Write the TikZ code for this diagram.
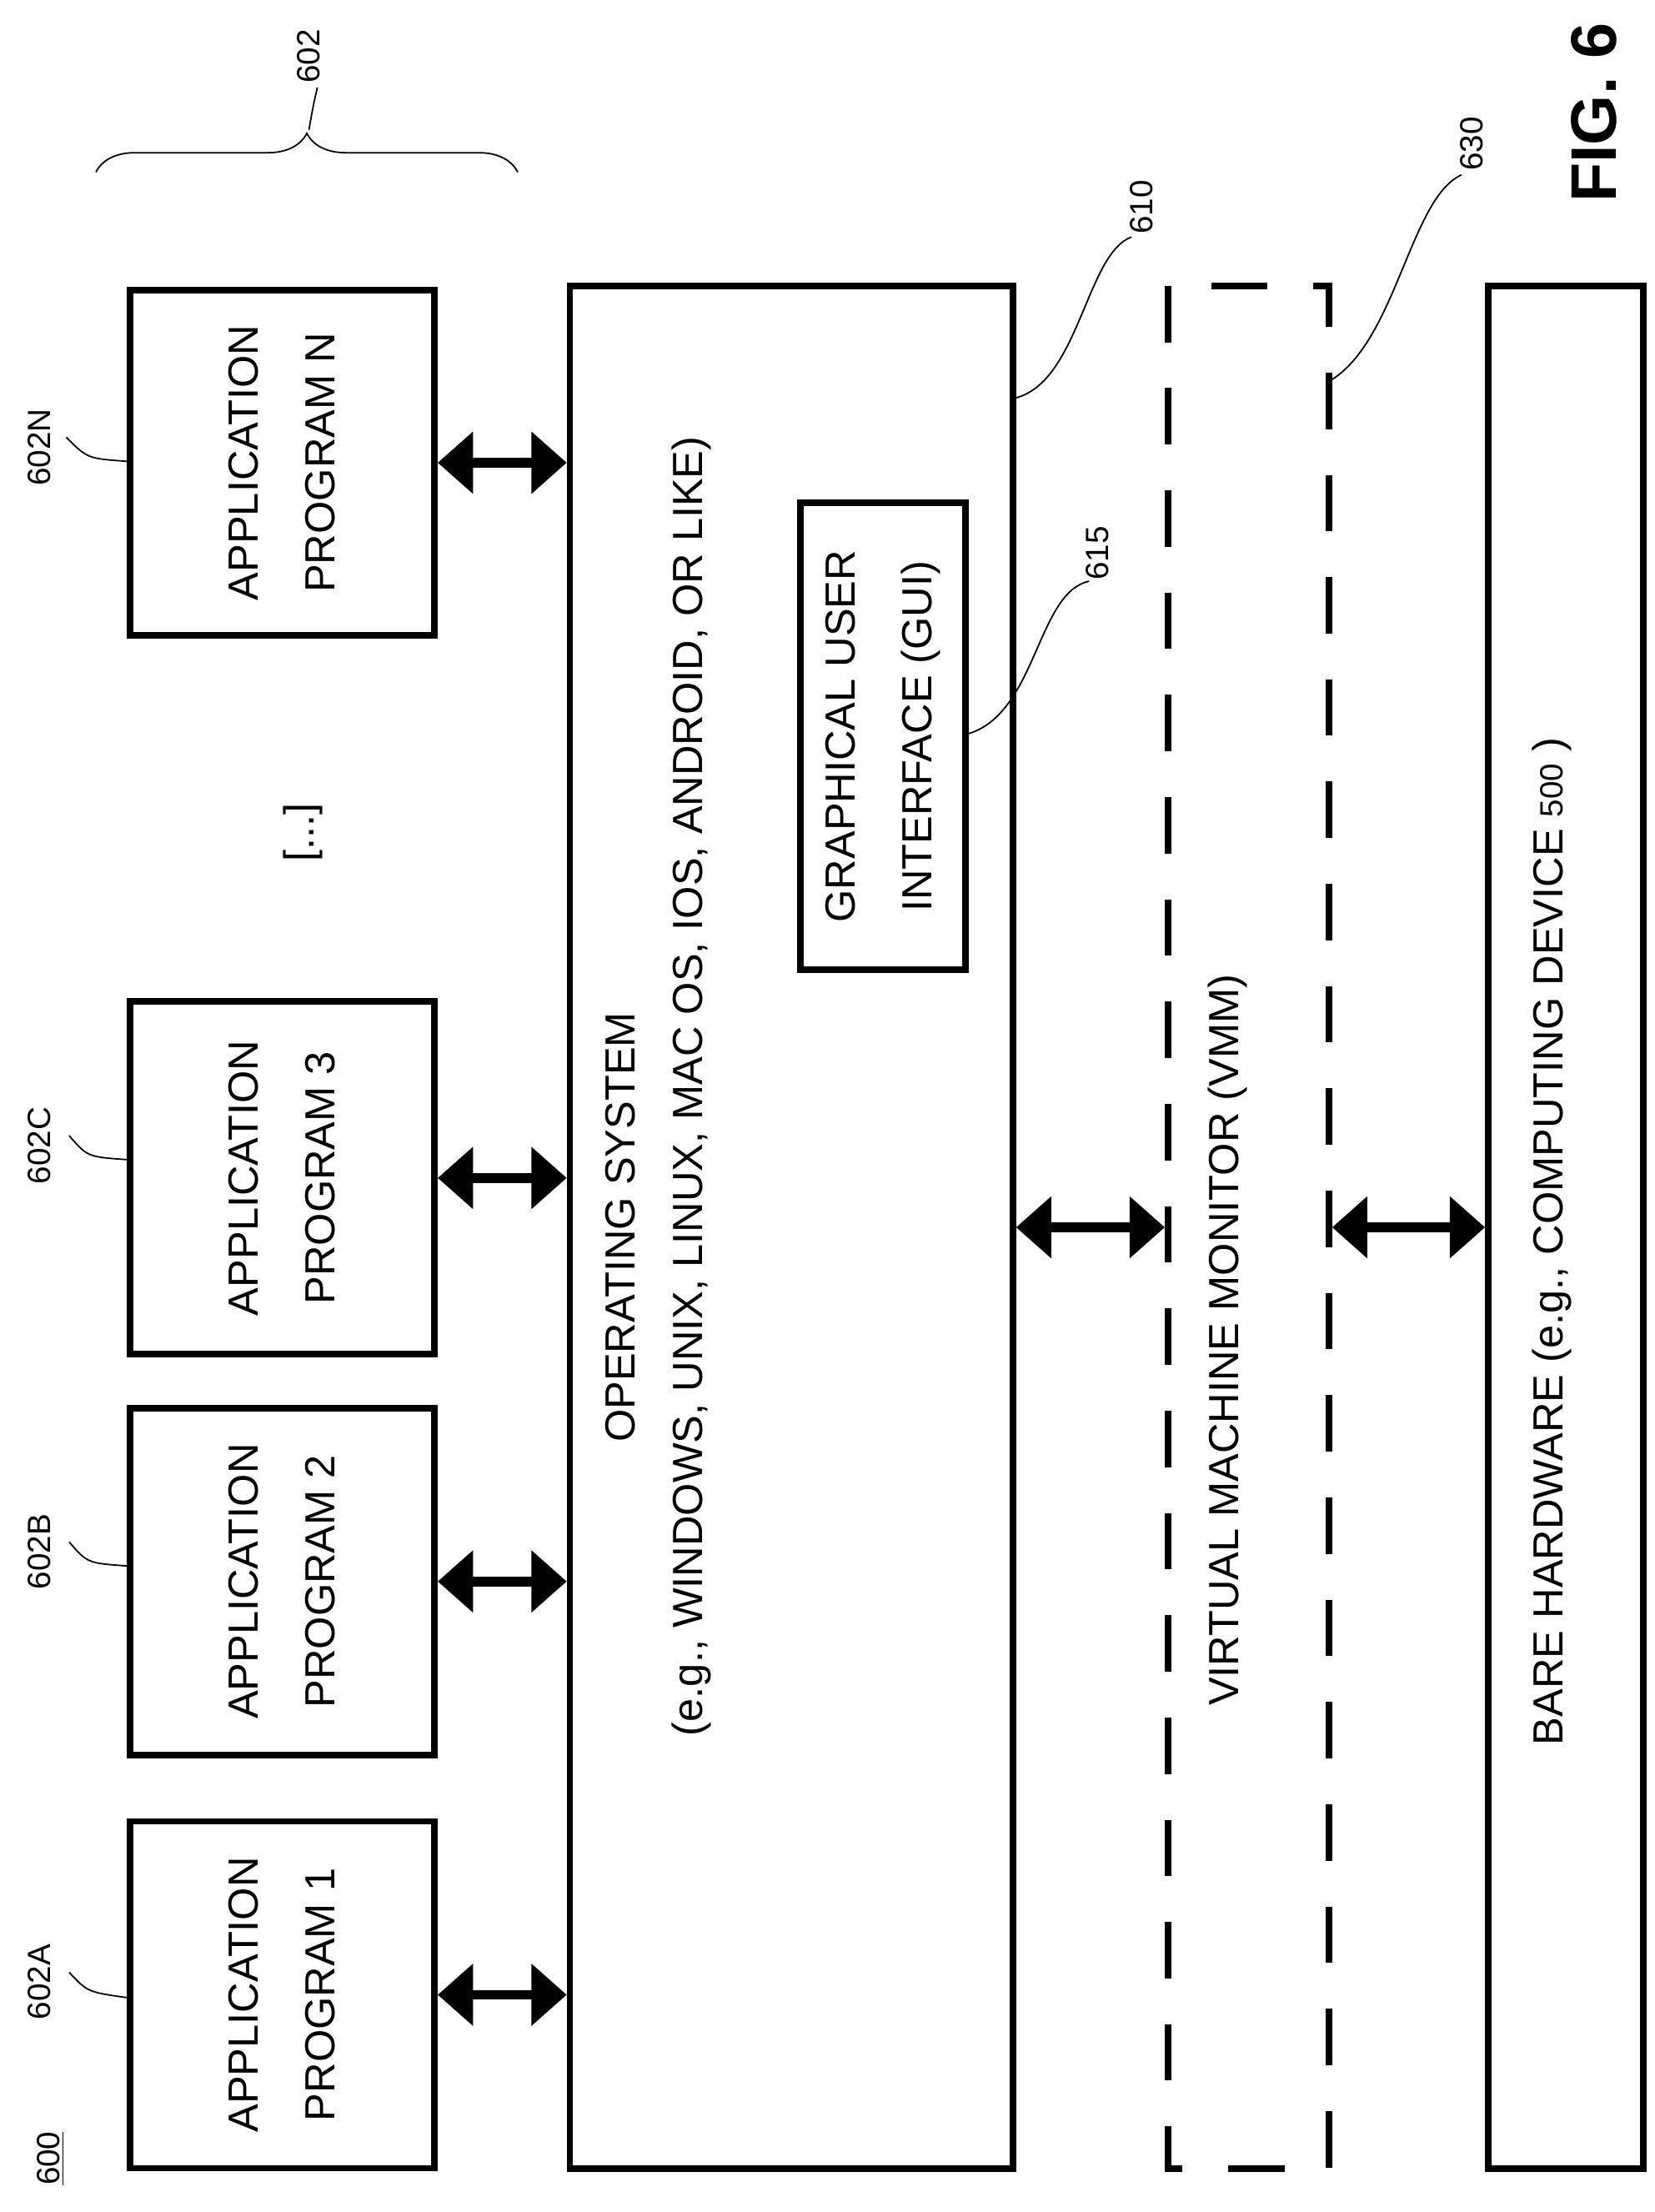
\documentclass[tikz,border=0pt]{standalone}
\usepackage{fontspec}
\setmainfont{Liberation Sans}
\usetikzlibrary{arrows.meta,decorations.pathreplacing}

\begin{document}
\begin{tikzpicture}[
        x=0.02cm, y=-0.02cm,
        box/.style 2 args={draw, line width=2.6pt, rotate=90, minimum width=#1, minimum height=#2,
            align=center, inner sep=0pt, font=\fontsize{17}{31}\selectfont},
        txt/.style={rotate=90, font=\fontsize{17}{20}\selectfont},
        ref/.style={rotate=90, font=\fontsize{13}{15}\selectfont},
        lead/.style={line width=0.6pt},
        dbl/.style={line width=4pt, {Triangle[length=0.5cm,width=0.85cm]}-{Triangle[length=0.5cm,width=0.85cm]}}
    ]
        \useasboundingbox (0,0) rectangle (1173,1568);

        % application programs
        \node [box={4.92cm}{4.32cm}] (a1) at (200,1414) {APPLICATION\\PROGRAM 1};
        \node [box={4.92cm}{4.32cm}] (a2) at (200,1121) {APPLICATION\\PROGRAM 2};
        \node [box={5.0cm}{4.32cm}]  (a3) at (200,835)  {APPLICATION\\PROGRAM 3};
        \node [box={4.9cm}{4.32cm}]  (an) at (200,328)  {APPLICATION\\PROGRAM N};
        \node [txt] (dots) at (215,590) {[...]};

        % operating system, monitor, hardware
        \node [box={26.7cm}{6.28cm}] (os) at (561,870) {};
        \node [txt] (ostitle) at (440,870) {OPERATING SYSTEM};
        \node [txt] (osdesc) at (490,770) {(e.g., WINDOWS, UNIX, LINUX, MAC OS, IOS, ANDROID, OR LIKE)};
        \node [box={6.62cm}{2.34cm}] (gui) at (626,522) {GRAPHICAL USER\\INTERFACE (GUI)};
        \node [box={26.7cm}{2.28cm}, dash pattern=on 0.8cm off 0.65cm] (vmm) at (885,870) {};
        \node [txt] (vmmtxt) at (870,950) {VIRTUAL MACHINE MONITOR (VMM)};
        \node [box={26.7cm}{2.2cm}] (hw) at (1110,870) {};
        \node [txt] (hwtxt) at (1100,880) {BARE HARDWARE (e.g., COMPUTING DEVICE {\fontsize{13}{15}\selectfont 500} )};

        % connections
        \draw [dbl] (a1.south) -- (a1.south -| os.north);
        \draw [dbl] (a2.south) -- (a2.south -| os.north);
        \draw [dbl] (a3.south) -- (a3.south -| os.north);
        \draw [dbl] (an.south) -- (an.south -| os.north);
        \draw [dbl] (os.south |- 0,870) -- (vmm.north |- 0,870);
        \draw [dbl] (vmm.south |- 0,870) -- (hw.north |- 0,870);

        % reference numerals
        \node [ref] (r600) at (36,1530) {\underline{600}};
        \node [ref] (r602a) at (28,1405) {602A};
        \node [ref] (r602b) at (28,1100) {602B};
        \node [ref] (r602c) at (28,812) {602C};
        \node [ref] (r602n) at (28,317) {602N};
        \draw [lead] (49,1398) .. controls (62,1412) .. (a1.north |- 0,1416);
        \draw [lead] (49,1093) .. controls (62,1108) .. (a2.north |- 0,1110);
        \draw [lead] (49,805) .. controls (62,820) .. (a3.north |- 0,822);
        \draw [lead] (47,310) .. controls (62,325) .. (an.north |- 0,327);

        \draw [lead, decorate, decoration={brace, amplitude=0.55cm}] (68,122) -- (367,122) coordinate[midway] (bmid);
        \node [ref] (r602) at (219,40) {602};
        \coordinate (btip) at (219,92);
        \draw [lead] (btip) .. controls (222,75) .. (225,62);

        \node [ref] (r610) at (809,147) {610};
        \draw [lead] (os.south |- 0,282) .. controls (765,270) and (770,180) .. (802,168);
        \node [ref] (r615) at (778,392) {615};
        \draw [lead] (gui.south |- 0,520) .. controls (735,505) and (735,420) .. (772,412);
        \node [ref] (r630) at (1043,102) {630};
        \draw [lead] (vmm.south |- 0,269) .. controls (990,240) and (1000,140) .. (1036,124);

        \node [rotate=90, font=\fontsize{26}{28}\selectfont\bfseries] (fig) at (1130,80) {FIG. 6};
\end{tikzpicture}
\end{document}
